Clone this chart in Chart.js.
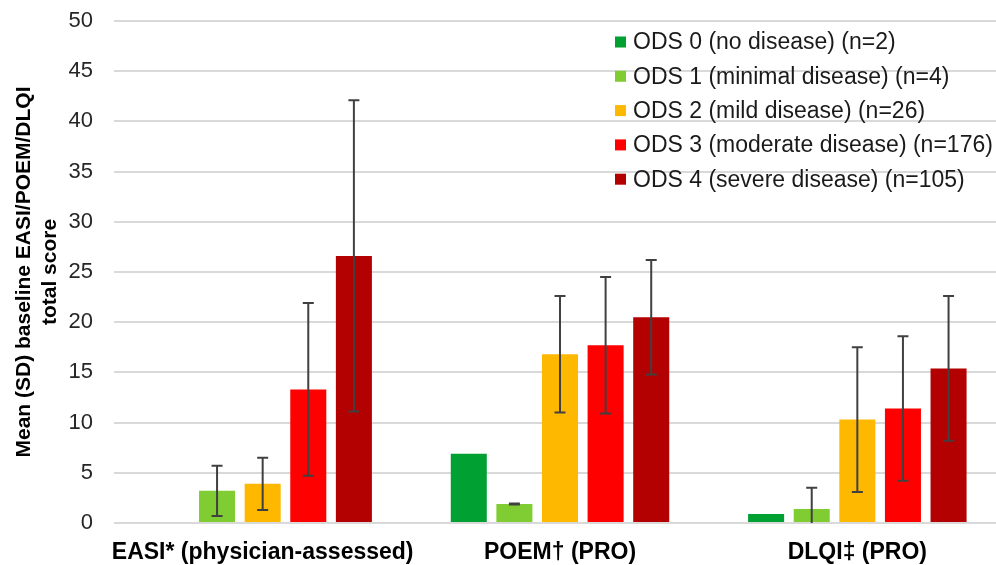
<!DOCTYPE html>
<html>
<head>
<meta charset="utf-8">
<script src="https://cdn.jsdelivr.net/npm/chart.js@4.4.1/dist/chart.umd.min.js"></script>
<style>
  html, body { margin: 0; padding: 0; background: #ffffff; overflow: hidden; width: 996px; height: 565px; }
  canvas { display: block; }
</style>
</head>
<body>
<canvas id="c" width="1010" height="565"></canvas>
<script>
// ---- Data ----
const categories = ['EASI* (physician-assessed)', 'POEM\u2020 (PRO)', 'DLQI\u2021 (PRO)'];
const seriesLabels = [
  'ODS 0 (no disease) (n=2)',
  'ODS 1 (minimal disease) (n=4)',
  'ODS 2 (mild disease) (n=26)',
  'ODS 3 (moderate disease) (n=176)',
  'ODS 4 (severe disease) (n=105)'
];
const ods0Mean = [null, 6.9, 0.9];
const ods0Sd   = [null, null, null];
const ods1Mean = [3.2, 1.9, 1.4];
const ods1Sd   = [2.5, 0.05, 2.1];
const ods2Mean = [3.9, 16.8, 10.3];
const ods2Sd   = [2.6, 5.8, 7.2];
const ods3Mean = [13.3, 17.7, 11.4];
const ods3Sd   = [8.6, 6.8, 7.2];
const ods4Mean = [26.6, 20.5, 15.4];
const ods4Sd   = [15.5, 5.7, 7.2];
const yTickValues = [0, 5, 10, 15, 20, 25, 30, 35, 40, 45, 50];

const colors = ['#00a033', '#80cc33', '#ffb800', '#ff0000', '#b30000'];
const means = [ods0Mean, ods1Mean, ods2Mean, ods3Mean, ods4Mean];
const sds = [ods0Sd, ods1Sd, ods2Sd, ods3Sd, ods4Sd];

const FONT = "'Liberation Sans', Arial, Helvetica, sans-serif";

const errorBars = {
  id: 'errorBars',
  afterDatasetsDraw(chart) {
    const ctx = chart.ctx;
    const ys = chart.scales.y;
    ctx.save();
    ctx.strokeStyle = '#404040';
    ctx.lineWidth = 2;
    chart.data.datasets.forEach((ds, i) => {
      const meta = chart.getDatasetMeta(i);
      meta.data.forEach((bar, j) => {
        const m = means[i][j];
        const s = sds[i][j];
        if (m == null || s == null) return;
        const x = bar.x;
        const hi = m + s;
        const lo = m - s;
        const yHi = ys.getPixelForValue(hi);
        const yLo = ys.getPixelForValue(Math.max(0, lo));
        ctx.beginPath();
        ctx.moveTo(x, yHi); ctx.lineTo(x, yLo);
        ctx.moveTo(x - 5.5, yHi); ctx.lineTo(x + 5.5, yHi);
        if (lo >= 0) { ctx.moveTo(x - 5.5, yLo); ctx.lineTo(x + 5.5, yLo); }
        ctx.stroke();
      });
    });
    ctx.restore();
  }
};

const legendBox = {
  id: 'legendBox',
  afterDraw(chart) {
    const ctx = chart.ctx;
    ctx.save();
    ctx.font = "23px " + FONT;
    ctx.textBaseline = 'middle';
    ctx.textAlign = 'left';
    const x0 = 615, y0 = 42, dy = 34.3, sq = 11;
    chart.data.datasets.forEach((ds, i) => {
      const y = y0 + i * dy;
      ctx.fillStyle = ds.backgroundColor;
      ctx.fillRect(x0, y - sq / 2, sq, sq);
      ctx.fillStyle = '#1a1a1a';
      ctx.fillText(ds.label, x0 + 18, y + 1);
    });
    ctx.restore();
  }
};

new Chart(document.getElementById('c'), {
  type: 'bar',
  data: {
    labels: categories,
    datasets: means.map((arr, i) => ({
      label: seriesLabels[i],
      data: arr,
      backgroundColor: colors[i],
      borderWidth: 0,
      categoryPercentage: 0.767,
      barPercentage: 0.79
    }))
  },
  options: {
    responsive: false,
    animation: false,
    layout: { padding: { top: 21, right: 4, left: 0, bottom: 0 } },
    plugins: {
      legend: { display: false },
      tooltip: { enabled: false }
    },
    scales: {
      x: {
        afterFit(scale) { scale.height = 42; scale.paddingLeft = 0; scale.paddingRight = 0; },
        grid: { display: false, drawTicks: false },
        border: { display: false },
        ticks: {
          color: '#000000',
          font: { family: FONT, size: 23, weight: 'bold' },
          padding: 16,
          maxRotation: 0,
          autoSkip: false
        }
      },
      y: {
        min: 0,
        max: 50,
        afterFit(scale) { scale.width = 114; scale.paddingTop = 0; scale.paddingBottom = 0; },
        afterBuildTicks(scale) { scale.ticks = yTickValues.map(v => ({ value: v })); },
        grid: { color: '#d9d9d9', lineWidth: 2, drawTicks: false },
        border: { display: false },
        ticks: {
          color: '#262626',
          font: { family: FONT, size: 22 },
          padding: 21
        },
        title: {
          display: true,
          text: ['Mean (SD) baseline EASI/POEM/DLQI', 'total score'],
          color: '#000000',
          font: { family: FONT, size: 21, weight: 'bold', lineHeight: 1.2 },
          padding: { top: 12, bottom: 0 }
        }
      }
    }
  },
  plugins: [errorBars, legendBox]
});
</script>
</body>
</html>
